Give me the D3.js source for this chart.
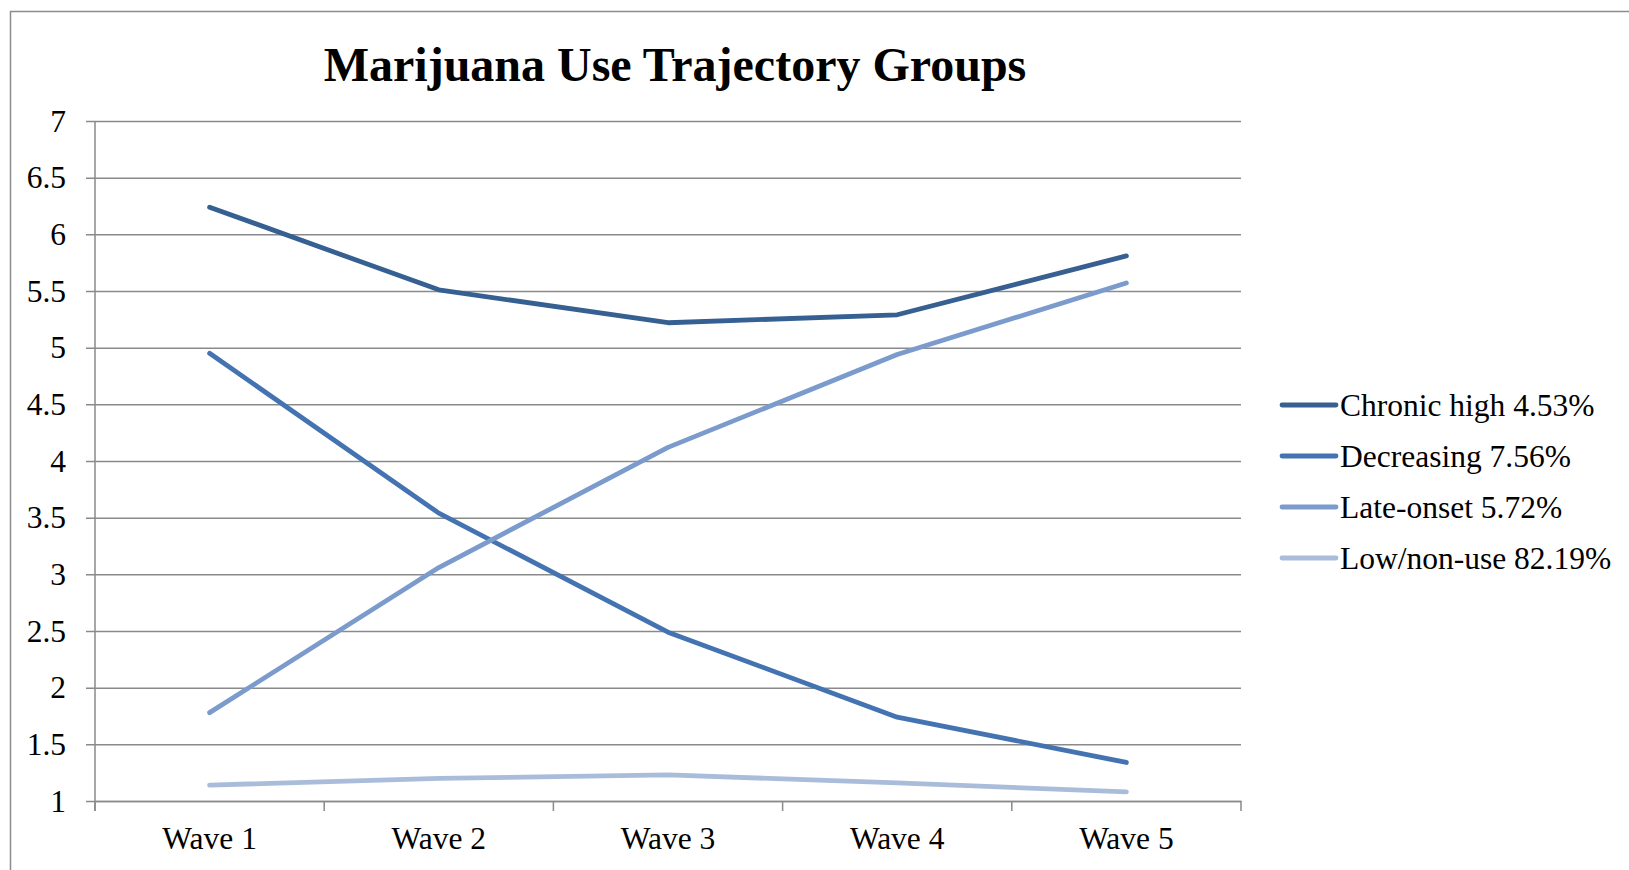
<!DOCTYPE html>
<html>
<head>
<meta charset="utf-8">
<script src="https://cdn.jsdelivr.net/npm/d3@7"></script>
<style>
  html, body { margin: 0; padding: 0; background: #fff; }
  svg { display: block; }
  text { font-family: "Liberation Serif", "Times New Roman", serif; fill: #000; }
</style>
</head>
<body>
<svg id="chart" width="1629" height="870"></svg>
<script>
// Trajectory group data: mean marijuana use score per wave
const waves = ["Wave 1", "Wave 2", "Wave 3", "Wave 4", "Wave 5"];
const groupNames = ["Chronic high 4.53%", "Decreasing 7.56%", "Late-onset 5.72%", "Low/non-use 82.19%"];
const chronicHigh = [6.24, 5.51, 5.22, 5.29, 5.81];
const decreasing = [4.95, 3.54, 2.49, 1.74, 1.34];
const lateOnset = [1.78, 3.06, 4.12, 4.94, 5.57];
const lowNonUse = [1.14, 1.20, 1.23, 1.16, 1.08];
const yTicks = [1, 1.5, 2, 2.5, 3, 3.5, 4, 4.5, 5, 5.5, 6, 6.5, 7];
const groupColors = ["#365F92", "#4473B2", "#7B9BCD", "#A9BDDB"];

const series = groupNames.map((name, i) => ({
  name,
  values: [chronicHigh, decreasing, lateOnset, lowNonUse][i],
  color: groupColors[i]
}));

const svg = d3.select("#chart");

// Outer chart frame
svg.append("rect")
  .attr("x", 10.5).attr("y", 11.5)
  .attr("width", 1700).attr("height", 900)
  .attr("fill", "none").attr("stroke", "#8c8c8c").attr("stroke-width", 1.5);

const plot = { left: 95, right: 1241, top: 121, bottom: 801 };

const x = d3.scaleBand().domain(waves).range([plot.left, plot.right]).padding(0);
const y = d3.scaleLinear().domain([1, 7]).range([plot.bottom, plot.top]);

// Horizontal gridlines with outward tick marks
const yAxis = d3.axisLeft(y).tickValues(yTicks).tickSize(plot.right - plot.left + 9)
  .tickFormat(d => String(d)).tickPadding(20);
const gy = svg.append("g")
  .attr("transform", `translate(${plot.right},0)`)
  .call(yAxis);
gy.select(".domain").remove();
gy.selectAll(".tick line").attr("stroke", "#8a8a8a").attr("stroke-width", 1.5);
gy.selectAll(".tick text")
  .style("font-size", "31.5px")
  .style("font-family", "'Liberation Serif', 'Times New Roman', serif")
  .attr("fill", "#000");

// Vertical axis line
svg.append("line")
  .attr("x1", plot.left).attr("x2", plot.left)
  .attr("y1", plot.top).attr("y2", plot.bottom + 10)
  .attr("stroke", "#8a8a8a").attr("stroke-width", 1.5);

// Category axis with tick marks at band edges
const xAxis = d3.axisBottom(x).tickSize(0).tickPadding(26);
const gx = svg.append("g")
  .attr("transform", `translate(0,${plot.bottom})`)
  .call(xAxis);
gx.select(".domain").attr("stroke", "#8a8a8a").attr("stroke-width", 1.5);
gx.selectAll(".tick text")
  .style("font-size", "31.5px")
  .style("font-family", "'Liberation Serif', 'Times New Roman', serif")
  .attr("fill", "#000");
svg.append("g").selectAll("line")
  .data(waves.concat(["end"]))
  .join("line")
  .attr("x1", (d, i) => i < waves.length ? x(d) : plot.right)
  .attr("x2", (d, i) => i < waves.length ? x(d) : plot.right)
  .attr("y1", plot.bottom).attr("y2", plot.bottom + 10)
  .attr("stroke", "#8a8a8a").attr("stroke-width", 1.5);

// Trajectory lines
const line = d3.line()
  .x((d, i) => x(waves[i]) + x.bandwidth() / 2)
  .y(d => y(d));

svg.append("g").selectAll("path")
  .data(series)
  .join("path")
  .attr("d", d => line(d.values))
  .attr("fill", "none")
  .attr("stroke", d => d.color)
  .attr("stroke-width", 4.8)
  .attr("stroke-linejoin", "round")
  .attr("stroke-linecap", "round");

// Title
svg.append("text")
  .attr("x", 675).attr("y", 81)
  .attr("text-anchor", "middle")
  .style("font-size", "48px")
  .style("font-weight", "bold")
  .text("Marijuana Use Trajectory Groups");

// Legend
const legend = svg.append("g").attr("transform", "translate(1282,405)");
const item = legend.selectAll("g")
  .data(series)
  .join("g")
  .attr("transform", (d, i) => `translate(0,${i * 51})`);
item.append("line")
  .attr("x1", 0).attr("x2", 54)
  .attr("stroke", d => d.color)
  .attr("stroke-width", 4.8)
  .attr("stroke-linecap", "round");
item.append("text")
  .attr("x", 58).attr("y", 10.5)
  .style("font-size", "31.5px")
  .text(d => d.name);
</script>
</body>
</html>
